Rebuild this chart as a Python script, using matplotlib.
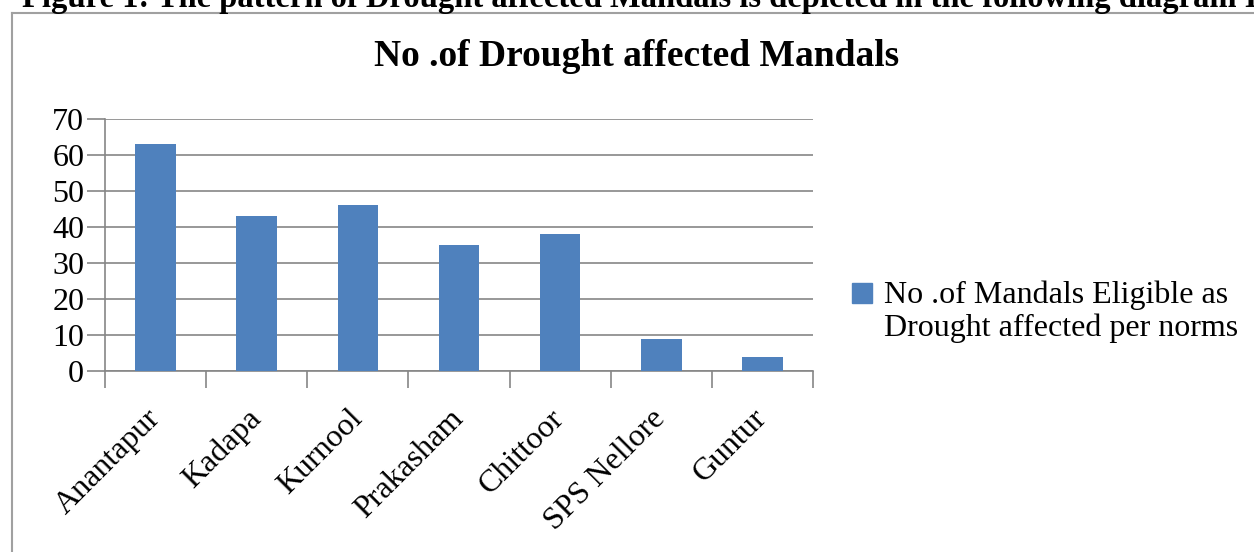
import matplotlib
matplotlib.use("Agg")
import matplotlib.pyplot as plt
from matplotlib.lines import Line2D
from matplotlib.patches import Rectangle
from matplotlib.transforms import ScaledTranslation
import numpy as np

categories = ["Anantapur", "Kadapa", "Kurnool", "Prakasham", "Chittoor", "SPS Nellore", "Guntur"]
values = [63, 43, 46, 35, 38, 9, 4]
yticks = [0, 10, 20, 30, 40, 50, 60, 70]
series_name = "No .of Mandals Eligible as\nDrought affected per norms"
title = "No .of Drought affected Mandals"
caption = "Figure 1: The pattern of Drought affected Mandals is depicted in the following diagram I"

W, H = 1254, 552
plt.rcParams['font.family'] = ['Liberation Serif', 'DejaVu Serif']
fig = plt.figure(figsize=(W / 100, H / 100), dpi=100)

bar_color = "#4F81BD"
grid_color = "#868686"
border_color = "#A0A0A0"

# caption (cut off at top in the reference)
fig.text(22 / W, 1 - 7 / H, caption, fontsize=23.5, fontweight='bold', ha='left', va='baseline')

# chart border
fig.add_artist(Line2D([12 / W, 12 / W], [0, 1 - 13 / H], color=border_color, lw=1.5, transform=fig.transFigure))
fig.add_artist(Line2D([12 / W, 1], [1 - 13 / H, 1 - 13 / H], color=border_color, lw=1.5, transform=fig.transFigure))

fig.text(637 / W, 1 - 57 / H, title, fontsize=27, fontweight='bold', ha='center', va='center')

ax = fig.add_axes([105 / W, 1 - 371 / H, (813 - 105) / W, (371 - 119) / H])
x = np.arange(len(categories))
ax.bar(x, values, width=0.4, color=bar_color, zorder=3)
ax.set_xlim(-0.5, len(categories) - 0.5)
ax.set_ylim(0, 70)
ax.set_yticks(yticks)
ax.set_yticklabels([str(v) for v in yticks], fontsize=23)
ax.tick_params(axis='y', length=13, width=1.2, color=grid_color, pad=2)
ax.set_xticks(np.arange(-0.5, len(categories), 1.0))
ax.set_xticklabels([])
ax.set_xticks(x, minor=True)
ax.set_xticklabels(categories, minor=True, rotation=45, ha='right', va='center',
                   rotation_mode='anchor', fontsize=23)
offset = ScaledTranslation(14 / 100, 0, fig.dpi_scale_trans)
for lab in ax.get_xticklabels(minor=True):
    lab.set_transform(lab.get_transform() + offset)
ax.tick_params(axis='x', which='major', length=12, width=1.2, color=grid_color)
ax.tick_params(axis='x', which='minor', length=0, pad=31)
for s in ['top', 'right']:
    ax.spines[s].set_visible(False)
for s in ['left', 'bottom']:
    ax.spines[s].set_color(grid_color)
    ax.spines[s].set_linewidth(1.2)
ax.yaxis.grid(True, color=grid_color, lw=1.2, zorder=0)
ax.set_axisbelow(True)

# legend (marker aligned with first line, as in reference)
fig.add_artist(Rectangle((852 / W, 1 - 303 / H), 20 / W, 20 / H, color=bar_color,
                         transform=fig.transFigure))
fig.text(884 / W, 1 - 312 / H, series_name, fontsize=23, ha='left', va='center',
         linespacing=1.15)

fig.savefig("out.png", dpi=100)
